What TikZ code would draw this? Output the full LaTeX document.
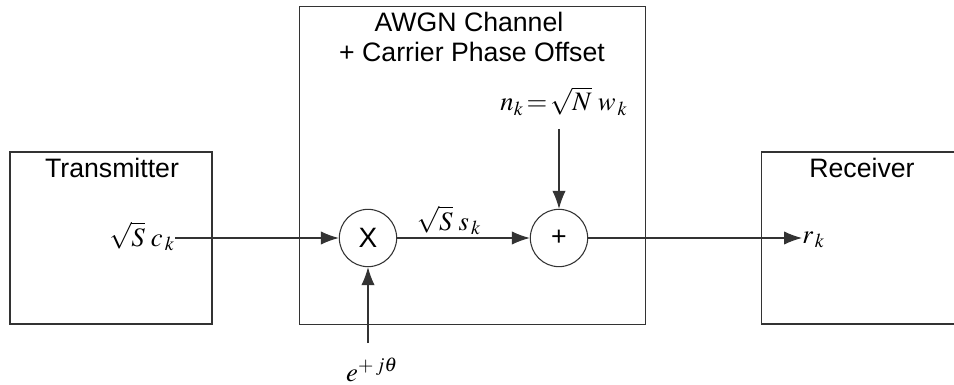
\documentclass[tikz,border=0pt]{standalone}
\usepackage{mathptmx}
\usepackage[no-math]{fontspec}
\setmainfont{Liberation Sans}
\usetikzlibrary{arrows.meta, positioning}

\begin{document}
\begin{tikzpicture}[x=0.75pt, y=-0.75pt,
  blk/.style={draw=black!80, line width=0.8pt, inner sep=0pt},
  mix/.style={draw=black!80, line width=0.8pt, circle, minimum size=43pt, inner sep=0pt,
              font=\fontsize{20}{24}\selectfont},
  sig/.style={draw=black!80, line width=0.8pt, -{Latex[length=13.5pt, width=10pt]}},
  lbl/.style={inner sep=0pt, font=\fontsize{20}{24}\selectfont},
  mth/.style={inner sep=0pt, font=\fontsize{20}{24}\selectfont}]

\useasboundingbox (0,0) rectangle (954,385);

% blocks
\node[blk, minimum width=151.5pt, minimum height=129pt] (tx) at (111,238) {};
\node[blk, minimum width=260pt, minimum height=239pt] (chan) at (472.5,165.5) {};
\node[blk, minimum width=149pt, minimum height=129pt] (rx) at (860.5,238) {};

\node[lbl, anchor=base] (txt) at (112,177) {Transmitter};
\node[lbl, anchor=base] (rxt) at (862,177) {Receiver};
\node[lbl, anchor=base] (chant) at (469,32) {AWGN Channel};
\node[lbl, anchor=base] (chanp) at (472,62) {+ Carrier Phase Offset};

% mixer and adder
\node[mix, font=\fontsize{21}{24}\selectfont] (mult) at (368,238) {X};
\node[mix] (add) at (559,238) {+};

% signal labels
\node[mth, anchor=base east] (ck) at (175,246) {$\sqrt{S}\;c_{\,k}$};
\node[mth, anchor=base] (sk) at (449,230) {$\sqrt{S}\;s_{\,k}$};
\node[mth, anchor=base] (nk) at (564,111) {$n_k\!=\!\sqrt{N}\;w_{\,k}$};
\node[mth, anchor=base west] (rk) at (802,243) {$r_{\,k}$};
\node[mth, anchor=base] (ph) at (372,381) {$e^{+\,j\theta}$};

\coordinate (ntop) at (559,129);
\coordinate (pbot) at (368,343);

% connectors
\draw[sig] (ck.east |- mult.west) -- (mult.west);
\draw[sig] (mult.east) -- (add.west);
\draw[sig] (ntop) -- (add.north);
\draw[sig] (pbot) -- (mult.south);
\draw[sig] (add.east) -- (rk.west |- add.east);

\end{tikzpicture}
\end{document}
